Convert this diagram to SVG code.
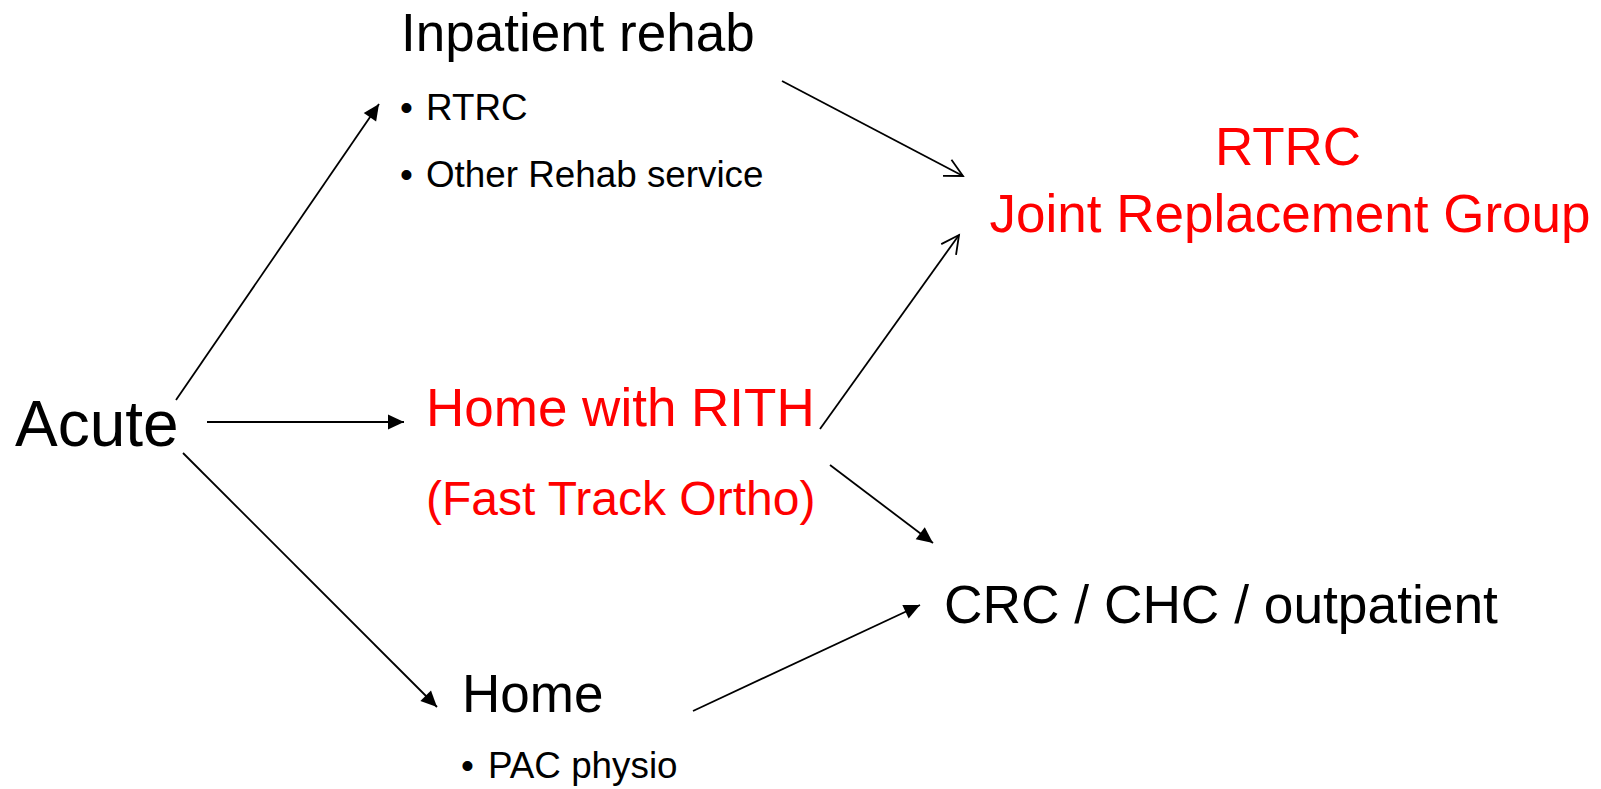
<svg xmlns="http://www.w3.org/2000/svg" width="1601" height="789" viewBox="0 0 1601 789">
<style>
text{font-family:"Liberation Sans",Arial,sans-serif;fill:#000}
.red{fill:#ff0000}
.big{font-size:53px}
.small{font-size:36.8px}
.edge{stroke:#000;stroke-width:1.8;fill:none}
.f{marker-end:url(#fill)}
.o{marker-end:url(#open)}
</style>
<defs>
<marker id="fill" markerUnits="userSpaceOnUse" markerWidth="18" markerHeight="16" refX="16" refY="7.5" orient="auto" overflow="visible">
<path d="M0,0 L16,7.5 L0,15 z" fill="#000"/>
</marker>
<marker id="open" markerUnits="userSpaceOnUse" markerWidth="20" markerHeight="20" refX="17.8" refY="9.1" orient="auto" overflow="visible">
<path d="M0,0 L17.8,9.1 L0,18.2" fill="none" stroke="#000" stroke-width="1.8"/>
</marker>
</defs>
<rect width="1601" height="789" fill="#fff"/>
<g id="connectors">
<line class="edge f" x1="176" y1="400" x2="379" y2="104"/>
<line class="edge f" x1="207" y1="422" x2="404" y2="422"/>
<line class="edge f" x1="183" y1="453" x2="437" y2="707"/>
<line class="edge o" x1="782" y1="81" x2="963" y2="176"/>
<line class="edge o" x1="820" y1="429" x2="959" y2="235"/>
<line class="edge f" x1="830" y1="465" x2="933" y2="543"/>
<line class="edge f" x1="693" y1="711" x2="920" y2="605"/>
</g>
<g id="acute">
<text x="15" y="446" font-size="64">Acute</text>
</g>
<g id="inpatient-rehab">
<text class="big" x="401" y="51">Inpatient rehab</text>
<text class="small" x="400" y="120">•</text>
<text class="small" x="426" y="120">RTRC</text>
<text class="small" x="400" y="187">•</text>
<text class="small" x="426" y="187">Other Rehab service</text>
</g>
<g id="rtrc-jrg">
<text class="red" x="1288" y="165" font-size="53" text-anchor="middle">RTRC</text>
<text class="red" x="1290" y="232" font-size="53" text-anchor="middle">Joint Replacement Group</text>
</g>
<g id="home-rith">
<text class="red" x="426" y="426" font-size="53">Home with RITH</text>
<text class="red" x="426" y="515" font-size="48">(Fast Track Ortho)</text>
</g>
<g id="crc">
<text x="944" y="623" font-size="53.3">CRC / CHC / outpatient</text>
</g>
<g id="home">
<text class="big" x="462" y="712">Home</text>
<text class="small" x="461" y="778">•</text>
<text class="small" x="488" y="778">PAC physio</text>
</g>
</svg>
